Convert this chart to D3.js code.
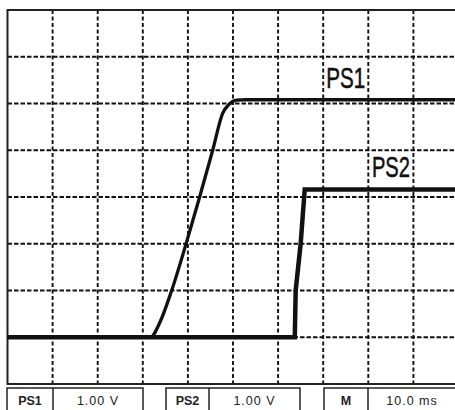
<!DOCTYPE html>
<html>
<head>
<meta charset="utf-8">
<script src="https://cdn.jsdelivr.net/npm/d3@7"></script>
<style>
  html, body { margin: 0; padding: 0; background: #fff; }
  svg { display: block; }
</style>
</head>
<body>
<script>
// Power-up sequence of two supply rails, 1.00 V/div and 10.0 ms/div.
const timeGridMs = [10, 20, 30, 40, 50, 60, 70, 80, 90];
const voltGrid = [0, 1, 2, 3, 4, 5, 6];

// PS1: soft ramp up to ~5 V
const ps1TimeMs = [0, 31.7, 33.7, 36.4, 39.6, 42.6, 45.5, 47.7, 49.2, 50.7, 52.9, 100];
const ps1Volts  = [0, 0, 0.30, 1.0, 2.0, 3.0, 4.0, 4.79, 4.99, 5.07, 5.08, 5.08];

// PS2: fast step up to ~3.2 V
const ps2TimeMs = [0, 63.7, 63.9, 65.0, 65.9, 100];
const ps2Volts  = [0, 0, 1.0, 2.0, 3.16, 3.16];

const channelNames = ["PS1", "PS2", "M"];
const channelScales = ["1.00 V", "1.00 V", "10.0 ms"];

const W = 455, H = 410;
const svg = d3.select("body").append("svg").attr("width", W).attr("height", H);

const x = d3.scaleLinear().domain([0, 100]).range([7.5, 458.5]);
const y = d3.scaleLinear().domain([-1, 7]).range([384, 10]);

const gridColor = "#111";

// dashed graticule
svg.append("g").selectAll("line").data(timeGridMs).join("line")
  .attr("x1", d => x(d)).attr("x2", d => x(d))
  .attr("y1", y(7)).attr("y2", y(-1))
  .attr("stroke", gridColor).attr("stroke-width", 1.9)
  .attr("stroke-dasharray", "4,2.5");

svg.append("g").selectAll("line").data(voltGrid).join("line")
  .attr("x1", x(0)).attr("x2", x(100))
  .attr("y1", d => y(d)).attr("y2", d => y(d))
  .attr("stroke", gridColor).attr("stroke-width", 1.9)
  .attr("stroke-dasharray", "4.5,2");

// screen frame
svg.append("rect")
  .attr("x", x(0)).attr("y", y(7))
  .attr("width", x(100) - x(0)).attr("height", y(-1) - y(7))
  .attr("fill", "none").attr("stroke", "#222").attr("stroke-width", 2);

// traces
const line = d3.line().x(d => x(d[0])).y(d => y(d[1]));
const ps1 = ps1TimeMs.map((t, i) => [t, ps1Volts[i]]);
const ps2 = ps2TimeMs.map((t, i) => [t, ps2Volts[i]]);

svg.append("path").datum(ps1)
  .attr("d", line.curve(d3.curveMonotoneX))
  .attr("fill", "none").attr("stroke", "#111").attr("stroke-width", 3.3)
  .attr("stroke-linejoin", "round");

svg.append("path").datum(ps2)
  .attr("d", line.curve(d3.curveLinear))
  .attr("fill", "none").attr("stroke", "#111").attr("stroke-width", 4.5)
  .attr("stroke-linejoin", "miter");

// trace labels
const labelFont = "'Liberation Sans Narrow', 'Liberation Sans', Arial, sans-serif";
svg.append("text")
  .attr("x", x(70.7)).attr("y", y(5.33))
  .attr("font-family", labelFont).attr("font-size", 30)
  .attr("textLength", 39).attr("lengthAdjust", "spacingAndGlyphs")
  .attr("fill", "#111").attr("stroke", "#111").attr("stroke-width", 0.5)
  .text("PS1");
svg.append("text")
  .attr("x", x(80.8)).attr("y", y(3.43))
  .attr("font-family", labelFont).attr("font-size", 29)
  .attr("textLength", 38).attr("lengthAdjust", "spacingAndGlyphs")
  .attr("fill", "#111").attr("stroke", "#111").attr("stroke-width", 0.5)
  .text("PS2");

// status bar boxes
const boxes = [
  { left: 7, div: 53, right: 143 },
  { left: 166, div: 209, right: 300 },
  { left: 324, div: 368, right: 470 }
];
const bar = svg.append("g").attr("font-family", labelFont).attr("fill", "#222");
boxes.forEach((b, i) => {
  bar.append("rect").attr("x", b.left).attr("y", 388)
    .attr("width", b.right - b.left).attr("height", 30)
    .attr("fill", "none").attr("stroke", "#222").attr("stroke-width", 1.5);
  bar.append("line").attr("x1", b.div).attr("x2", b.div)
    .attr("y1", 388).attr("y2", 418)
    .attr("stroke", "#222").attr("stroke-width", 1.5);
  bar.append("text").attr("x", (b.left + b.div) / 2).attr("y", 405)
    .attr("text-anchor", "middle").attr("font-size", 12.5)
    .attr("font-weight", "bold").text(channelNames[i]);
  bar.append("text").attr("x", i === 2 ? 412 : (b.div + b.right) / 2).attr("y", 405)
    .attr("text-anchor", "middle").attr("font-size", 12.5)
    .attr("letter-spacing", 1).text(channelScales[i]);
});
</script>
</body>
</html>
